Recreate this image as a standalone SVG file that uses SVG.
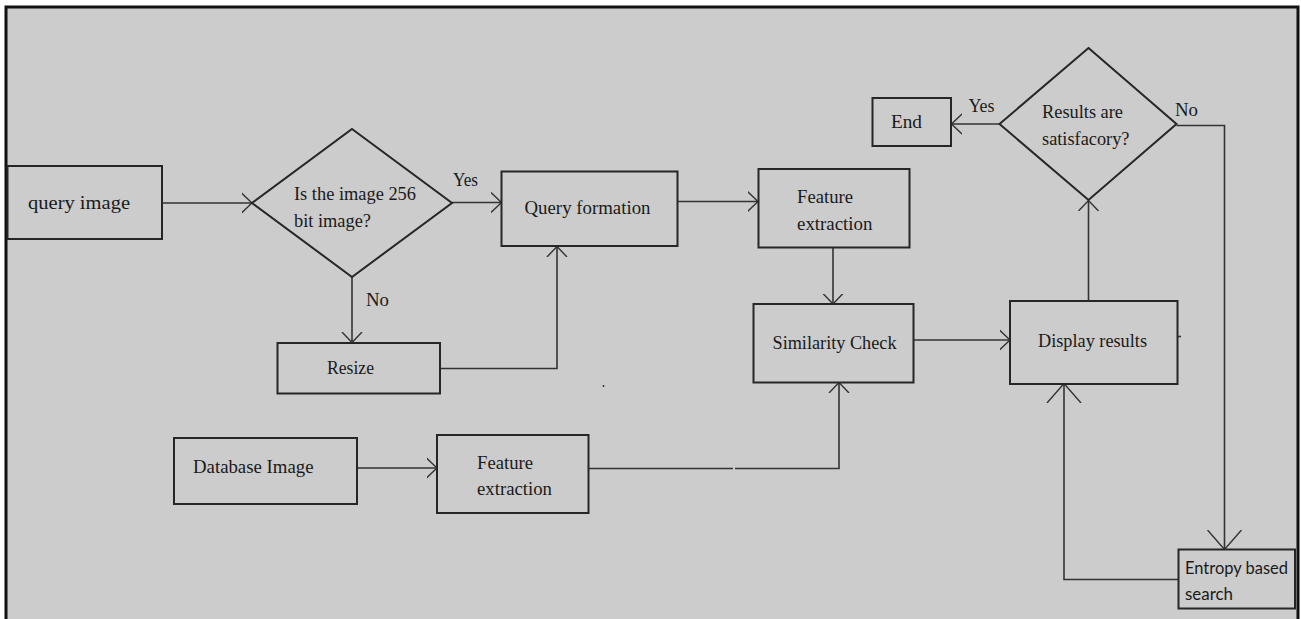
<svg xmlns="http://www.w3.org/2000/svg" width="1301" height="619" viewBox="0 0 1301 619">
<style>
.bg{fill:#cccccc}
.frame{fill:none;stroke:#111;stroke-width:3}
.box{fill:none;stroke:#262626;stroke-width:2}
.ln{fill:none;stroke:#333;stroke-width:1.6}
.t{font-family:"Liberation Serif","Times New Roman",serif;font-size:18px;fill:#1a1a1a}
.s{font-family:"Lato","Liberation Sans",Arial,sans-serif;font-size:17px;fill:#1a1a1a}
</style>
<defs>
<marker id="ah" markerUnits="userSpaceOnUse" viewBox="0 0 11 22" refX="10.5" refY="11" markerWidth="11" markerHeight="22" orient="auto">
<path d="M0,1 L10.5,11 L0,21" fill="none" stroke="#333" stroke-width="1.4"/>
</marker>
<marker id="ahL" markerUnits="userSpaceOnUse" viewBox="0 0 20 36" refX="19.5" refY="18" markerWidth="20" markerHeight="36" orient="auto">
<path d="M0,1 L19.5,18 L0,35" fill="none" stroke="#333" stroke-width="1.4"/>
</marker>
</defs>
<rect x="0" y="0" width="1301" height="619" fill="#ffffff"/>
<rect class="bg" x="5" y="6" width="1293" height="613"/>
<path class="frame" d="M6,619 V7 H1298 V619"/>

<g id="connectors">
<line class="ln" x1="162" y1="203" x2="252" y2="203" marker-end="url(#ah)"/>
<line class="ln" x1="452" y1="202.5" x2="501.5" y2="202.5" marker-end="url(#ah)"/>
<line class="ln" x1="352" y1="277" x2="352" y2="342.5" marker-end="url(#ah)"/>
<polyline class="ln" points="440,368.5 557,368.5 557,246.5" marker-end="url(#ah)"/>
<line class="ln" x1="677.5" y1="201.5" x2="758" y2="201.5" marker-end="url(#ah)"/>
<line class="ln" x1="833" y1="247.5" x2="833" y2="304" marker-end="url(#ah)"/>
<line class="ln" x1="357" y1="468" x2="437" y2="468" marker-end="url(#ah)"/>
<line class="ln" x1="589" y1="468.5" x2="733" y2="468.5"/>
<polyline class="ln" points="735,468.5 839,468.5 839,382.5" marker-end="url(#ah)"/>
<line class="ln" x1="913.5" y1="340" x2="1010" y2="340" marker-end="url(#ah)"/>
<line class="ln" x1="1088.5" y1="301" x2="1088.5" y2="200.5" marker-end="url(#ah)"/>
<line class="ln" x1="999.5" y1="124" x2="951.5" y2="124" marker-end="url(#ah)"/>
<polyline class="ln" points="1176.5,125.5 1224.5,125.5 1224.5,549.5" marker-end="url(#ahL)"/>
<polyline class="ln" points="1178.5,579.5 1064,579.5 1064,383.5" marker-end="url(#ahL)"/>
<line class="ln" x1="1177" y1="336.5" x2="1181" y2="336.5"/>
<circle cx="603.5" cy="386" r="1" fill="#333"/>
</g>

<g id="query-image">
<rect class="box" x="7.5" y="166" width="154.5" height="73"/>
<text class="t" x="28" y="209" font-size="20" textLength="102" lengthAdjust="spacingAndGlyphs">query image</text>
</g>

<g id="decision-256">
<polygon class="box" points="352,129 452,203 352,277 252,203"/>
<text class="t" x="294" y="200" textLength="122" lengthAdjust="spacingAndGlyphs">Is the image 256</text>
<text class="t" x="294" y="227" textLength="77" lengthAdjust="spacingAndGlyphs">bit image?</text>
<text class="t" x="366" y="306" textLength="23" lengthAdjust="spacingAndGlyphs">No</text>
<text class="t" x="453" y="185.5" textLength="25" lengthAdjust="spacingAndGlyphs">Yes</text>
</g>

<g id="resize">
<rect class="box" x="277.5" y="343" width="162.5" height="50.5"/>
<text class="t" x="327" y="374" textLength="47" lengthAdjust="spacingAndGlyphs">Resize</text>
</g>

<g id="query-formation">
<rect class="box" x="501.5" y="171.5" width="176" height="74.5"/>
<text class="t" x="524.5" y="214" textLength="126" lengthAdjust="spacingAndGlyphs">Query formation</text>
</g>

<g id="feature-extraction-1">
<rect class="box" x="758.5" y="169" width="151" height="78.5"/>
<text class="t" x="797" y="203" textLength="56" lengthAdjust="spacingAndGlyphs">Feature</text>
<text class="t" x="797" y="229.5" textLength="75.5" lengthAdjust="spacingAndGlyphs">extraction</text>
</g>

<g id="similarity-check">
<rect class="box" x="753.5" y="304" width="160" height="78.5"/>
<text class="t" x="772.5" y="348.5" textLength="124" lengthAdjust="spacingAndGlyphs">Similarity Check</text>
</g>

<g id="database-image">
<rect class="box" x="174" y="438" width="183" height="66"/>
<text class="t" x="193" y="472.5" textLength="120.5" lengthAdjust="spacingAndGlyphs">Database Image</text>
</g>

<g id="feature-extraction-2">
<rect class="box" x="437" y="435" width="151.5" height="78"/>
<text class="t" x="477" y="468.5" textLength="56" lengthAdjust="spacingAndGlyphs">Feature</text>
<text class="t" x="477" y="495" textLength="75" lengthAdjust="spacingAndGlyphs">extraction</text>
</g>

<g id="display-results">
<rect class="box" x="1010" y="301" width="167.5" height="83"/>
<text class="t" x="1038" y="347" textLength="109" lengthAdjust="spacingAndGlyphs">Display results</text>
</g>

<g id="decision-results">
<polygon class="box" points="1088.5,48 1176.5,124 1088.5,200 999.5,124"/>
<text class="t" x="1042" y="117.5" textLength="81" lengthAdjust="spacingAndGlyphs">Results are</text>
<text class="t" x="1042" y="145" textLength="87.5" lengthAdjust="spacingAndGlyphs">satisfacory?</text>
<text class="t" x="968.5" y="111.5" textLength="26" lengthAdjust="spacingAndGlyphs">Yes</text>
<text class="t" x="1175" y="116" textLength="23" lengthAdjust="spacingAndGlyphs">No</text>
</g>

<g id="end">
<rect class="box" x="872.5" y="98" width="78.5" height="48"/>
<text class="t" x="891" y="127.5" textLength="31" lengthAdjust="spacingAndGlyphs">End</text>
</g>

<g id="entropy-search">
<rect class="box" x="1178.5" y="549.5" width="116.5" height="59"/>
<text class="s" x="1185" y="574" textLength="103" lengthAdjust="spacingAndGlyphs">Entropy based</text>
<text class="s" x="1185" y="599.5" textLength="48" lengthAdjust="spacingAndGlyphs">search</text>
</g>
</svg>
